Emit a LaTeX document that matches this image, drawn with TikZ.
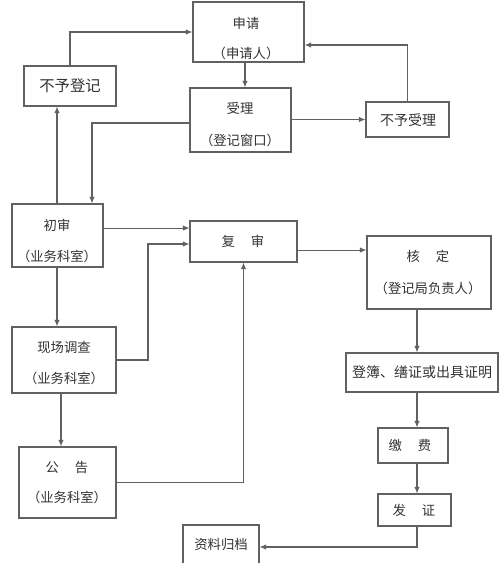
\documentclass[tikz,border=0pt]{standalone}
\usepackage{fontspec}
\setmainfont{Noto Sans CJK SC}
\usetikzlibrary{fit,arrows.meta}
\begin{document}
\begin{tikzpicture}[x=0.75pt,y=-0.75pt,
  box/.style={draw=black!62, line width=0.8pt, inner sep=0pt},
  txt/.style={font=\fontsize{10pt}{12pt}\selectfont, text=black!80, inner sep=0pt},
  arr/.style={draw=black!62, line width=0.8pt, -{Latex[length=5pt,width=4.2pt]}}]
\useasboundingbox (0,0) rectangle (501,563);
\fill[white] (0,0) rectangle (501,563);
% boxes
\node[box, fit={(193,2)(304,62)}] (sq) {};
\node[box, fit={(24,66)(116,106)}] (bydj) {};
\node[box, fit={(190,88)(291,152)}] (sl) {};
\node[box, fit={(366,102)(449,137)}] (bysl) {};
\node[box, fit={(12,204)(103,267)}] (cs) {};
\node[box, fit={(190,221)(297,262)}] (fs) {};
\node[box, fit={(367,236)(491,309)}] (hd) {};
\node[box, fit={(12,327)(116,393)}] (xc) {};
\node[box, fit={(346,353)(498,392)}] (db) {};
\node[box, fit={(378,428)(448,463)}] (jf) {};
\node[box, fit={(19,447)(116,518)}] (gg) {};
\node[box, fit={(378,494)(451,526)}] (fz) {};
\node[box, fit={(183,525)(259,569)}] (zl) {};
% texts
\node[txt] (sq-a) at (246,23) {申请};
\node[txt] (sq-b) at (246,53) {（申请人）};
\node[txt, font=\fontsize{11.5pt}{13pt}\selectfont] (bydj-a) at (70,86) {不予登记};
\node[txt] (sl-a) at (240,108) {受理};
\node[txt] (sl-b) at (240,140) {（登记窗口）};
\node[txt, font=\fontsize{10.5pt}{13pt}\selectfont] (bysl-a) at (408,120) {不予受理};
\node[txt] (cs-a) at (57,225) {初审};
\node[txt] (cs-b) at (57,256) {（业务科室）};
\node[txt] (fs-a) at (243,241) {复\hspace{1.2em}审};
\node[txt] (hd-a) at (428,256) {核\hspace{1.2em}定};
\node[txt] (hd-b) at (428,288) {（登记局负责人）};
\node[txt] (xc-a) at (64,347) {现场调查};
\node[txt] (xc-b) at (64,378) {（业务科室）};
\node[txt, font=\fontsize{10.5pt}{13pt}\selectfont] (db-a) at (422,372) {登簿、缮证或出具证明};
\node[txt] (jf-a) at (410,445) {缴\hspace{1.2em}费};
\node[txt] (gg-a) at (67,467) {公\hspace{1.2em}告};
\node[txt] (gg-b) at (67,497) {（业务科室）};
\node[txt] (fz-a) at (414,510) {发\hspace{1.2em}证};
\node[txt] (zl-a) at (221,544) {资料归档};
% helper coordinates
\coordinate (vx) at (417,0);
\coordinate (v245) at (245,0);
\coordinate (v57) at (57,0);
\coordinate (v61) at (61,0);
\coordinate (k1) at (148,244);
\coordinate (k2) at (92,0);
% connectors
\draw[arr] (bydj.north) |- (sq.west);
\draw[arr] (sq.south -| v245) -- (sl.north -| v245);
\draw[arr] (sl.east |- bysl.west) -- (bysl.west);
\draw[arr] (bysl.north) |- ([yshift=-9.75pt]sq.east);
\draw[arr] ([yshift=-2.25pt]sl.west) -| (cs.north -| k2);
\draw[arr] (cs.north -| v57) -- (bydj.south -| v57);
\draw[arr] ([yshift=5.6pt]cs.east) -- ([yshift=5.6pt]cs.east -| fs.west);
\draw[arr] (cs.south -| v57) -- (xc.north -| v57);
\draw[arr] (xc.east) -| (k1) -- (k1 -| fs.west);
\draw[arr] (xc.south -| v61) -- (gg.north -| v61);
\draw[arr] (gg.east) -| (fs.south);
\draw[arr] ([yshift=-6.4pt]fs.east) -- ([yshift=-6.4pt]fs.east -| hd.west);
\draw[arr] (hd.south -| vx) -- (db.north -| vx);
\draw[arr] (db.south -| vx) -- (jf.north -| vx);
\draw[arr] (jf.south -| vx) -- (fz.north -| vx);
\draw[arr] (fz.south -| vx) |- (zl.east);
\end{tikzpicture}
\end{document}
